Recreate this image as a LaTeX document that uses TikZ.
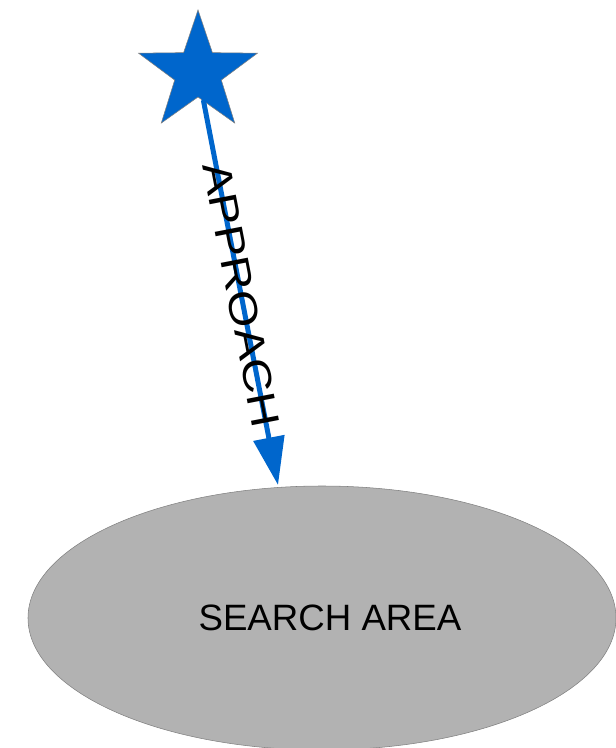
\documentclass[tikz,border=0pt]{standalone}
\usepackage{fontspec}
\setmainfont{Liberation Sans}
\usetikzlibrary{shapes.geometric,arrows.meta}
\definecolor{starblue}{HTML}{0066CC}
\definecolor{areagray}{HTML}{B2B2B2}

\begin{document}
\begin{tikzpicture}[x=0.75pt, y=-0.75pt, line cap=round]
  \useasboundingbox (0,0) rectangle (615,748);
  % search area
  \node[ellipse, draw=gray, fill=areagray, inner sep=0pt,
        minimum width=441pt, minimum height=198pt] (area) at (322,618) {};
  \node[font=\fontsize{27.5}{33}\selectfont] (arealabel) at (330,618) {SEARCH AREA};
  % start point
  \node[star, star points=5, star point ratio=2.55, draw=gray, fill=starblue,
        inner sep=0pt, minimum size=93.75pt] (start) at (198,72.5) {};
  % approach vector
  \coordinate (tip) at (278,485);
  \draw[-{Triangle[length=36pt, width=23pt]}, line width=3.75pt, starblue]
    (start) -- (tip)
    node[pos=0.505, sloped, black, font=\fontsize{30}{36}\selectfont]
      {\scalebox{1.2}[1]{APPROACH}};
\end{tikzpicture}
\end{document}
